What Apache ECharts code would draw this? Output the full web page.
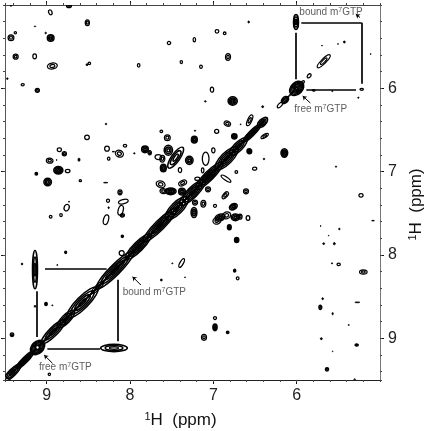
<!DOCTYPE html>
<html>
<head>
<meta charset="utf-8">
<style>
  html, body { margin: 0; background: #fff; }
  #chart { width: 427px; height: 431px; }
</style>
<script src="https://cdn.jsdelivr.net/npm/echarts@6/dist/echarts.min.js"></script>
</head>
<body>
<div id="chart"></div>
<script>
// ppm range and labelled ticks
const ppmMin = 5;
const ppmMax = 9.5;
const majorTicks = [6, 7, 8, 9];

// diagonal ridge, low field to high field: [shift, half length, half width, contour levels]
const diagonalRidge = [
  [9.41, .1, .042, 3], [9.26, .1, .032, 3], [9.11, .07, .07, 6],
  [8.92, .14, .052, 3], [8.77, .1, .05, 3], [8.57, .18, .072, 4],
  [8.39, .07, .028, 2], [8.18, .22, .062, 4], [7.9, .15, .058, 4],
  [7.64, .2, .058, 4], [7.44, .13, .07, 4], [7.25, .15, .062, 4],
  [7.05, .16, .055, 4], [6.84, .13, .068, 4], [6.7, .1, .052, 3],
  [6.54, .1, .032, 3], [6.41, .055, .04, 3], [6.2, .03, .02, 1],
  [6.14, .035, .035, 3], [6.07, .05, .006, 0], [6, .07, .07, 6],
  [5.94, .03, .016, 1], [5.85, .02, .018, 1], [5.675, .075, .028, 2],
  [8.9, .6, .012, 0], [7.9, .6, .014, 0], [6.9, .55, .014, 0]
];

// cross peaks in the upper left quarter: [x, y, half width x, half width y, levels, tilt]
const crossPeaksUpperLeft = [
  [8.732, 5.012, .03, .02, 2, 0], [8.956, 5.088, .02, .03, 1, 20], [8.512, 5.212, .025, .035, 2, 0],
  [9.428, 5.008, .01, .008, 0, 0], [9.14, 5.256, .01, .005, 0, 0], [9.012, 5.336, .01, .01, 0, 0],
  [9.428, 5.392, .035, .035, 2, 0], [9.376, 5.332, .014, .014, 1, 0], [8.952, 5.396, .04, .04, 3, 0],
  [9.372, 5.62, .03, .03, 2, 0], [9.144, 5.616, .022, .03, 1, 0], [8.932, 5.732, .06, .035, 2, 10],
  [8.488, 5.7, .015, .015, 1, 0], [8.516, 5.716, .012, .012, 0, 0], [9.472, 5.884, .01, .01, 0, 0],
  [9.288, 5.956, .018, .014, 1, 0], [9.112, 6.024, .025, .025, 2, 0], [8.516, 6.588, .028, .028, 1, 0],
  [8.288, 6.428, .01, .01, 0, 0], [8.848, 6.736, .025, .022, 1, 0], [8.788, 6.784, .025, .025, 2, 0],
  [8.964, 6.868, .04, .03, 2, 0], [8.88, 6.86, .006, .006, 0, 0], [8.612, 6.856, .012, .02, 0, 0],
  [8.86, 6.984, .055, .045, 4, 0], [8.748, 6.992, .028, .02, 1, 0], [9.124, 7.024, .016, .016, 2, 0],
  [8.988, 7.124, .045, .045, 3, 0], [8.596, 7.108, .014, .012, 1, 0], [8.276, 6.724, .028, .03, 1, 0],
  [8.256, 6.844, .015, .018, 1, 0], [8.06, 6.688, .02, .016, 1, 0], [8.128, 6.784, .05, .04, 2, -25],
  [8.2, 6.76, .015, .004, 0, 0], [7.948, 6.78, .01, .008, 0, 0], [7.82, 6.732, .04, .04, 3, 0],
  [7.764, 6.772, .02, .025, 2, 0], [8.12, 7.248, .025, .03, 2, 0], [8.292, 7.132, .025, .004, 0, 0],
  [8.264, 7.348, .018, .02, 1, 0], [8.256, 7.432, .008, .012, 0, 0], [8.08, 7.36, .06, .025, 1, 15],
  [8.112, 7.464, .03, .06, 1, -15], [8.76, 7.432, .03, .04, 1, -20], [8.732, 7.36, .006, .008, 0, 0]
];

// cross peaks around the crowded centre of the spectrum
const crossPeaksCentre = [
  [7.532, 5.456, .02, .02, 1, 0], [7.228, 5.416, .015, .025, 1, 0], [7.896, 5.724, .015, .022, 1, 0],
  [7.384, 5.684, .014, .018, 1, 0], [7.148, 5.74, .016, .02, 1, 0], [7.016, 6.016, .02, .03, 1, 0],
  [7.096, 6.156, .012, .008, 0, 0], [7.624, 6.516, .016, .016, 1, 0], [7.552, 6.592, .035, .035, 2, 0],
  [7.22, 6.508, .008, .008, 0, 0], [7.228, 6.616, .035, .04, 3, 0], [7.54, 6.744, .05, .06, 3, 0],
  [7.452, 6.832, .15, .05, 3, 55], [7.66, 6.824, .04, .03, 1, 0], [7.612, 6.844, .03, .04, 2, 0],
  [7.6, 6.956, .035, .045, 3, 0], [7.288, 6.864, .045, .05, 3, 0], [7.4, 6.98, .02, .03, 1, 0],
  [7, 6.744, .02, .03, 1, 0], [7.092, 6.844, .04, .08, 1, 0], [7.128, 6.984, .015, .03, 1, 0],
  [7.192, 7.084, .03, .02, 1, 0], [7.632, 7.152, .055, .04, 2, -20], [7.6, 7.232, .04, .03, 2, 0],
  [7.512, 7.236, .065, .04, 4, 0], [7.368, 7.136, .05, .03, 2, 25], [7.376, 7.24, .04, .04, 3, 0],
  [7.064, 7.212, .03, .03, 2, 0], [7.12, 7.384, .03, .04, 2, 0], [7.22, 7.37, .03, .03, 2, 0],
  [7.232, 7.49, .035, .06, 3, 0], [6.98, 7.41, .018, .018, 1, 0], [6.956, 7.588, .05, .04, 2, 20],
  [6.92, 7.55, .06, .04, 3, 20], [6.84, 7.524, .05, .04, 2, 20], [6.76, 7.42, .05, .035, 3, 30],
  [6.68, 7.54, .025, .03, 2, 0], [6.736, 7.548, .05, .04, 3, 0], [6.584, 7.556, .022, .028, 1, 0],
  [6.808, 7.668, .022, .03, 3, 0], [6.72, 7.82, .025, .03, 3, 0], [6.848, 7.084, .07, .02, 1, -35],
  [6.856, 7.284, .05, .025, 2, 50], [6.608, 7.236, .03, .03, 2, 0], [6.724, 7.004, .016, .016, 1, 0],
  [6.504, 6.964, .025, .018, 1, 0], [6.392, 6.848, .01, .01, 0, 0], [6.568, 6.756, .028, .03, 3, 0],
  [6.148, 6.776, .04, .05, 4, 0], [6.384, 6.572, .05, .02, 2, 30], [6.748, 6.576, .032, .032, 3, 0],
  [6.672, 6.432, .006, .006, 0, 0], [6.96, 6.516, .025, .025, 1, 0], [6.832, 6.424, .04, .03, 2, -20],
  [6.564, 6.384, .07, .025, 2, 65], [6.408, 6.22, .012, .012, 0, 0], [6.768, 6.152, .055, .05, 4, 0],
  [6.824, 5.624, .03, .04, 2, 0], [6.864, 5.34, .016, .016, 1, 0], [6.956, 5.316, .022, .022, 1, 0],
  [6.576, 5.204, .01, .012, 0, 0]
];

// cross peaks below the diagonal on the left
const crossPeaksLowerLeft = [
  [8.952, 7.54, .016, .016, 1, 0], [8.828, 7.52, .015, .018, 1, 0], [8.288, 7.576, .03, .06, 1, -15],
  [8.092, 7.524, .025, .02, 2, 0], [8.092, 7.776, .014, .014, 2, 0], [8.772, 7.968, .012, .014, 2, 0],
  [9.296, 8.108, .01, .012, 0, 0], [8.872, 8.12, .008, .006, 0, 0], [9.008, 8.588, .016, .02, 2, 0],
  [8.932, 8.604, .008, .006, 0, 0], [9.14, 8.616, .01, .012, 0, 0], [9.416, 8.956, .022, .022, 2, 0],
  [8.968, 9.432, .014, .014, 1, 0], [8.1, 7.976, .03, .03, 1, 0], [7.38, 8.096, .06, .02, 1, 60],
  [7.492, 8.1, .008, .006, 0, 0], [7.624, 8.3, .012, .012, 0, 0], [7.34, 8.268, .006, .006, 0, 0],
  [7.112, 8.988, .03, .035, 2, 0], [6.98, 8.756, .018, .018, 1, 0], [6.98, 8.868, .025, .04, 3, 0],
  [6.828, 8.928, .016, .016, 2, 0], [6.744, 8.188, .014, .018, 2, 0], [6.708, 8.28, .016, .018, 1, 0]
];

// weak cross peaks on the right hand side
const crossPeaksRight = [
  [5.696, 5.488, .006, .005, 0, 0], [5.504, 5.468, .006, .005, 0, 0], [5.428, 5.444, .012, .012, 0, 0],
  [5.112, 5.588, .006, .006, 0, 0], [5.22, 6.012, .02, .012, 1, 0], [5.796, 6.024, .016, .01, 1, 0],
  [5.572, 6.032, .008, .008, 0, 0], [5.26, 6.112, .008, .008, 0, 0], [5.528, 6.94, .008, .008, 0, 0],
  [5.228, 7.284, .025, .022, 1, 0], [5.712, 7.652, .006, .005, 0, 0], [5.488, 7.688, .01, .01, 0, 0],
  [5.616, 7.768, .004, .005, 0, 0], [5.676, 7.864, .012, .01, 0, 0], [5.548, 7.864, .012, .014, 0, 0],
  [5.576, 8.1, .012, .004, 0, 0], [5.496, 8.112, .02, .016, 1, 0], [5.2, 8.204, .045, .026, 2, 0],
  [5.084, 7.588, .016, .004, 0, 0], [5.688, 8.524, .01, .012, 0, 0], [5.716, 8.628, .018, .026, 2, 0],
  [5.568, 8.704, .008, .014, 0, 0], [5.272, 8.568, .03, .005, 0, 0], [5.376, 8.84, .01, .004, 0, 0],
  [5.704, 9.004, .012, .012, 0, 0], [5.28, 9.08, .02, .014, 2, 0], [5.568, 9.156, .004, .006, 0, 0],
  [5.636, 9.372, .02, .022, 2, 0], [5.304, 9.492, .012, .006, 0, 0]
];

// the m7GTP exchange peaks, last one is the hole in the free peak (levels -1)
const boundPeaks = [
  [9.14, 8.176, .03, .23, 3, 0], [8.192, 9.116, .16, .044, 3, 0], [6.008, 5.204, .03, .09, 3, 0],
  [9.11, 9.11, .014, .014, -1, 0]
];

// connecting lines: [x1, y1, x2, y2]
const connectors = [
  [5.944, 5.212, 5.22, 5.212], [5.22, 5.212, 5.22, 5.944], [5.884, 6.016, 5.288, 6.016],
  [6.016, 5.332, 6.016, 5.892], [9.02, 8.16, 8.28, 8.16], [9.12, 8.436, 9.12, 8.984],
  [8.992, 9.128, 8.36, 9.128], [8.152, 8.296, 8.152, 9.036]
];
const arrows = [
  [5.836, 6.176, 5.928, 6.092], [5.24, 5.15, 5.29, 5.11],
  [7.87, 8.36, 7.97, 8.26], [8.93, 9.3, 9.03, 9.2]
];

// annotations: [x, y, name, superscript, rest]
const annotations = [
  [5.588, 5.088, 'bound m', '7', 'GTP'], [5.712, 6.252, 'free m', '7', 'GTP'],
  [7.708, 8.444, 'bound m', '7', 'GTP'], [8.776, 9.348, 'free m', '7', 'GTP']
];

const peaks = [
  ...diagonalRidge.map(d => [d[0], d[0], d[1] * Math.SQRT2, d[2], d[3], 45]),
  ...crossPeaksUpperLeft, ...crossPeaksCentre, ...crossPeaksLowerLeft,
  ...crossPeaksRight, ...boundPeaks
];

function peakStyle(levels) {
  if (levels < 0) return { fill: '#fff', stroke: 'none' };
  if (levels === 0) return { fill: '#000', stroke: '#000', lineWidth: .8 };
  return { fill: 'none', stroke: '#000', lineWidth: levels >= 3 ? 1.5 : 1.25 };
}

function renderPeak(params, api) {
  const c = api.coord([api.value(0), api.value(1)]);
  const scale = Math.abs(api.size([1, 1])[0]);
  const rx = api.value(2) * scale;
  const ry = api.value(3) * scale;
  const levels = api.value(4);
  const rotation = api.value(5) * Math.PI / 180;
  const children = [];
  const n = Math.max(levels, 1);
  for (let i = 0; i < n; i++) {
    const f = (n - i) / n;
    children.push({
      type: 'ellipse',
      x: c[0],
      y: c[1],
      rotation: rotation,
      shape: { cx: 0, cy: 0, rx: rx * f, ry: ry * f },
      style: peakStyle(levels)
    });
  }
  return { type: 'group', children: children };
}

const minorTicks = {
  type: 'value', min: ppmMin, max: ppmMax, inverse: true, interval: .2,
  splitLine: { show: false }, axisLabel: { show: false },
  axisLine: { show: false, onZero: false },
  axisTick: { show: true, length: 2, lineStyle: { color: '#444', width: 1 } }
};
const tickLabel = { show: true, customValues: majorTicks, color: '#222', fontSize: 16, fontFamily: 'Liberation Sans' };
const nameRich = {
  s: { fontSize: 11, fontFamily: 'Liberation Sans', color: '#111', padding: [0, 0, 7, 0] },
  t: { fontSize: 17, fontFamily: 'Liberation Sans', color: '#111' }
};

function majorAxis(color, label, extra) {
  return Object.assign({
    type: 'value', min: ppmMin, max: ppmMax, inverse: true,
    splitLine: { show: false },
    axisLine: { show: true, onZero: false, lineStyle: { color: color, width: 1 } },
    axisTick: { show: true, customValues: majorTicks, length: 4, lineStyle: { color: '#111', width: 1 } },
    axisLabel: label
  }, extra);
}

const chart = echarts.init(document.getElementById('chart'), null, { renderer: 'canvas' });
chart.setOption({
  animation: false,
  backgroundColor: '#fff',
  grid: { left: 5, right: 47, top: 5, bottom: 51, outerBoundsMode: 'none' },
  xAxis: [
    majorAxis('#222', Object.assign({ margin: 8 }, tickLabel), {
      position: 'bottom', name: '{s|1}{t|H  (ppm)}', nameLocation: 'middle', nameGap: 31,
      nameTextStyle: { rich: nameRich, padding: [0, 24, 0, 0] }, nameMoveOverlap: false
    }),
    majorAxis('#444', { show: false }, { position: 'top' }),
    Object.assign({ position: 'bottom' }, minorTicks),
    Object.assign({ position: 'top' }, minorTicks)
  ],
  yAxis: [
    majorAxis('#777', Object.assign({ margin: 8 }, tickLabel), {
      position: 'right', name: '{s|1}{t|H  (ppm)}', nameLocation: 'middle', nameGap: 27, nameRotate: 90,
      nameTextStyle: { rich: nameRich, padding: [0, 24, 0, 0] }, nameMoveOverlap: false
    }),
    majorAxis('#555', { show: false }, { position: 'left' }),
    Object.assign({ position: 'right' }, minorTicks),
    Object.assign({ position: 'left' }, minorTicks)
  ],
  series: [
    {
      type: 'custom',
      coordinateSystem: 'cartesian2d',
      clip: true,
      encode: { x: 0, y: 1 },
      data: peaks,
      renderItem: renderPeak,
      silent: true,
      z: 2
    },
    {
      type: 'lines',
      coordinateSystem: 'cartesian2d',
      polyline: false,
      symbol: 'none',
      lineStyle: { color: '#000', width: 1.7, opacity: 1, curveness: 0 },
      data: connectors.map(l => ({ coords: [[l[0], l[1]], [l[2], l[3]]] })),
      silent: true,
      z: 3
    },
    {
      type: 'lines',
      coordinateSystem: 'cartesian2d',
      symbol: ['none', 'arrow'],
      symbolSize: 4,
      lineStyle: { color: '#000', width: 1, opacity: 1, curveness: 0 },
      data: arrows.map(l => ({ coords: [[l[0], l[1]], [l[2], l[3]]] })),
      silent: true,
      z: 3
    },
    {
      type: 'scatter',
      symbolSize: 1,
      itemStyle: { color: 'transparent' },
      data: annotations.map(a => [a[0], a[1], a[2], a[3], a[4]]),
      label: {
        show: true,
        position: 'inside',
        formatter: p => `{a|${p.value[2]}}{b|${p.value[3]}}{a|${p.value[4]}}`,
        rich: {
          a: { fontSize: 10, fontFamily: 'Liberation Sans', color: '#333' },
          b: { fontSize: 7, fontFamily: 'Liberation Sans', color: '#333', padding: [0, 0, 4, 0] }
        }
      },
      silent: true,
      z: 4
    }
  ]
});
</script>
</body>
</html>
